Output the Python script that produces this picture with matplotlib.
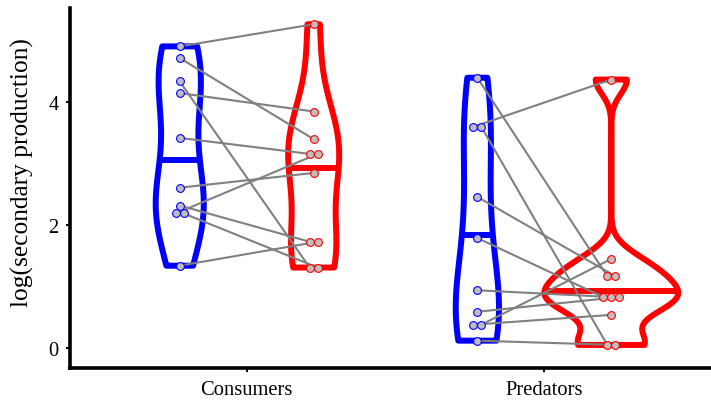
import numpy as np
import matplotlib
matplotlib.use("Agg")
import matplotlib.pyplot as plt
from matplotlib.patches import Polygon

# Paired observations (blue = first treatment, red = second treatment)
categories = ["Consumers", "Predators"]
consumers_blue = [4.91, 4.72, 4.34, 4.15, 3.42, 2.61, 2.32, 2.19, 2.19, 1.34]
consumers_red = [5.27, 3.40, 1.31, 3.85, 3.16, 2.85, 1.73, 3.16, 1.31, 1.73]
predators_blue = [4.40, 3.60, 3.60, 2.46, 1.79, 0.94, 0.59, 0.38, 0.38, 0.12]
predators_red = [1.17, 4.37, 0.05, 1.17, 0.83, 0.83, 0.83, 0.54, 1.45, 0.05]
y_ticks = [0, 2, 4]
y_label = "log(secondary production)"

groups = [(consumers_blue, consumers_red), (predators_blue, predators_red)]
colors = ["#0000FF", "#FF0000"]
dodge = 0.225
violin_width = 0.45
tie_step = 0.027

plt.rcParams["font.family"] = ["Liberation Serif", "DejaVu Serif"]


def bw_nrd0(x):
    x = np.asarray(x, float)
    hi = np.std(x, ddof=1)
    q75, q25 = np.percentile(x, [75, 25])
    lo = min(hi, (q75 - q25) / 1.34)
    if lo == 0:
        lo = hi if hi > 0 else 1.0
    return 0.9 * lo * len(x) ** -0.2


def kde(x, n=512):
    x = np.asarray(x, float)
    bw = bw_nrd0(x)
    grid = np.linspace(x.min(), x.max(), n)
    z = (grid[:, None] - x[None, :]) / bw
    d = np.exp(-0.5 * z ** 2).sum(axis=1) / (len(x) * bw * np.sqrt(2 * np.pi))
    return grid, d


def tie_offsets(values):
    values = list(values)
    offs = np.zeros(len(values))
    for v in set(values):
        idx = [i for i, w in enumerate(values) if w == v]
        k = len(idx)
        for j, i in enumerate(idx):
            offs[i] = (j - (k - 1) / 2) * tie_step
    return offs


fig = plt.figure(figsize=(7.11, 4.06), dpi=100)
W, H = 711, 406
left_px, bottom_px, top_px = 69.8, 369.3, 9.3
ax = fig.add_axes([left_px / W, (H - bottom_px) / H, 1 - left_px / W,
                   (bottom_px - top_px) / H])

# densities for every violin, scaled to a common maximum (equal area)
dens = []
for blue, red in groups:
    dens.append([kde(blue), kde(red)])
dmax = max(d.max() for pair in dens for (_, d) in pair)

for ci, (pair_vals, pair_dens) in enumerate(zip(groups, dens)):
    xc_cat = ci + 1
    for si, ((grid, d), color) in enumerate(zip(pair_dens, colors)):
        xc = xc_cat + (-dodge if si == 0 else dodge)
        half = d / dmax * violin_width / 2
        px = np.concatenate([xc - half, (xc + half)[::-1]])
        py = np.concatenate([grid, grid[::-1]])
        poly = Polygon(np.column_stack([px, py]), closed=True,
                       facecolor="white", edgecolor=color, lw=4.3,
                       joinstyle="round", zorder=2)
        ax.add_patch(poly)
        cum = np.cumsum(d) / d.sum()
        ym = np.interp(0.5, cum, grid)
        hm = np.interp(ym, grid, d) / dmax * violin_width / 2
        ax.plot([xc - hm, xc + hm], [ym, ym], color=color, lw=4.3,
                solid_capstyle="butt", zorder=2)

    blue, red = pair_vals
    xb = xc_cat - dodge + tie_offsets(blue)
    xr = xc_cat + dodge + tie_offsets(red)
    for i in range(len(blue)):
        ax.plot([xb[i], xr[i]], [blue[i], red[i]], color="#808080",
                lw=1.5, zorder=3)
    ax.plot(xb, blue, "o", ms=5.6, mfc="#BEBEBE", mec=colors[0],
            mew=0.8, zorder=4, linestyle="none")
    ax.plot(xr, red, "o", ms=5.6, mfc="#BEBEBE", mec=colors[1],
            mew=0.8, zorder=4, linestyle="none")

ax.set_xlim(0.4056, 2.560)
ax.set_ylim(-0.33, 5.53)
ax.set_xticks([1, 2])
ax.set_xticklabels(categories)
ax.set_yticks(y_ticks)
ax.set_yticklabels([str(t) for t in y_ticks])
for s in ["top", "right"]:
    ax.spines[s].set_visible(False)
for s in ["left", "bottom"]:
    ax.spines[s].set_linewidth(2.6)
    ax.spines[s].set_capstyle("projecting")
ax.tick_params(axis="both", direction="out", length=2.6, width=1.4,
               labelsize=14.8, colors="black")
ax.tick_params(axis="x", pad=6)
ax.tick_params(axis="y", pad=5.5)
fig.text(22 / W, 1 - 172.5 / H, y_label, rotation=90, ha="center",
         va="center", fontsize=18.3)

fig.savefig("out.png", dpi=100)
